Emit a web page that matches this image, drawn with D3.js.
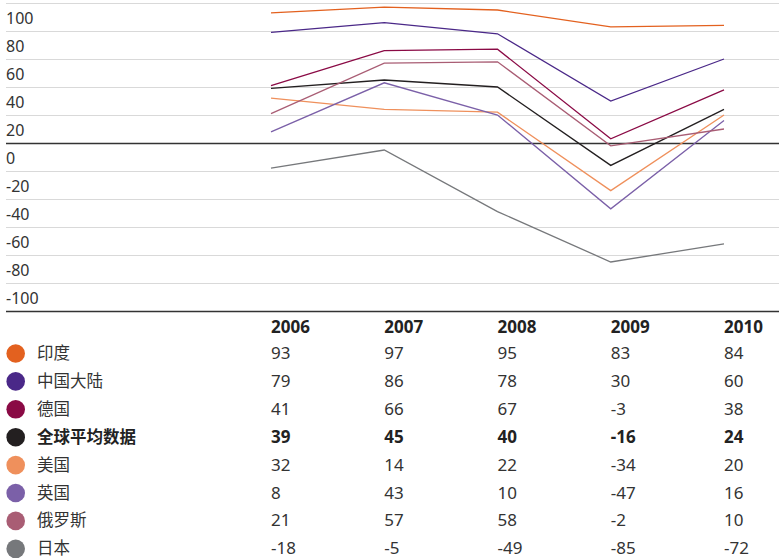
<!DOCTYPE html>
<html>
<head>
<meta charset="utf-8">
<script src="https://cdn.jsdelivr.net/npm/d3@7"></script>
<style>
  body { margin: 0; background: #fff; }
  text { font-family: "Noto Sans", "Noto Sans CJK SC", sans-serif; }
</style>
</head>
<body>
<svg id="chart" width="779" height="559"></svg>
<script>
// years across the bottom table / x axis
const years = ["2006", "2007", "2008", "2009", "2010"];

// country names, in table order
const names = ["印度", "中国大陆", "德国", "全球平均数据", "美国", "英国", "俄罗斯", "日本"];

// series colours
const colors = ["#e3611f", "#4a2888", "#8a0a45", "#231f20", "#ef905c", "#7b60a8", "#a95d74", "#76787b"];

// values as printed in the table
const tableValues = [
  [93, 97, 95, 83, 84],
  [79, 86, 78, 30, 60],
  [41, 66, 67, -3, 38],
  [39, 45, 40, -16, 24],
  [32, 14, 22, -34, 20],
  [8, 43, 10, -47, 16],
  [21, 57, 58, -2, 10],
  [-18, -5, -49, -85, -72]
];

// values as the lines are drawn in the picture (a few differ from the table)
const lineValues = [
  [93, 97, 95, 83, 84],
  [79, 86, 78, 30, 60],
  [41, 66, 67, 3, 38],
  [39, 45, 40, -16, 24],
  [32, 24, 22, -34, 20],
  [8, 43, 20, -47, 16],
  [21, 57, 58, -2, 10],
  [-18, -5, -49, -85, -72]
];

const yTicks = [100, 80, 60, 40, 20, 0, -20, -40, -60, -80, -100];

const svg = d3.select("#chart");
const width = 779;

const x = d3.scalePoint().domain(years).range([271, 724]);
const y = d3.scaleLinear().domain([-100, 100]).range([283, 3]);

// gridlines + labels
const grid = svg.append("g").attr("class", "grid");
grid.selectAll("line")
  .data(yTicks)
  .join("line")
  .attr("x1", 6)
  .attr("x2", width)
  .attr("y1", d => y(d) + 0.5)
  .attr("y2", d => y(d) + 0.5)
  .attr("stroke", d => d === 0 ? "#333" : "#d9d9d9")
  .attr("stroke-width", d => d === 0 ? 1.5 : 1);

grid.selectAll("text")
  .data(yTicks)
  .join("text")
  .attr("x", 6)
  .attr("y", d => y(d) + 21)
  .attr("font-size", 16)
  .attr("fill", "#333")
  .text(d => d);

// lines
const line = d3.line()
  .x((d, i) => x(years[i]))
  .y(d => y(d));

svg.append("g")
  .attr("class", "lines")
  .selectAll("path")
  .data(lineValues)
  .join("path")
  .attr("fill", "none")
  .attr("stroke", (d, i) => colors[i])
  .attr("stroke-width", 1.3)
  .attr("d", line);

// table
svg.append("line")
  .attr("x1", 6).attr("x2", width)
  .attr("y1", 311.5).attr("y2", 311.5)
  .attr("stroke", "#333")
  .attr("stroke-width", 1.5);

svg.append("g")
  .selectAll("text")
  .data(years)
  .join("text")
  .attr("x", d => x(d))
  .attr("y", 333)
  .attr("font-size", 17)
  .attr("font-weight", "bold")
  .attr("fill", "#222")
  .text(d => d);

const rowY = i => 359 + i * 27.9;

const rows = svg.append("g")
  .selectAll("g")
  .data(names)
  .join("g");

rows.append("circle")
  .attr("cx", 15.7)
  .attr("cy", (d, i) => rowY(i) - 5.5)
  .attr("r", 9.3)
  .attr("fill", (d, i) => colors[i]);

rows.append("text")
  .attr("x", 37)
  .attr("y", (d, i) => rowY(i))
  .attr("font-size", 16.5)
  .attr("font-family", "'Noto Sans CJK SC', sans-serif")
  .attr("font-weight", (d, i) => i === 3 ? "bold" : "normal")
  .attr("fill", (d, i) => i === 3 ? "#222" : "#333")
  .text(d => d);

rows.each(function(d, i) {
  d3.select(this).selectAll("text.val")
    .data(tableValues[i])
    .join("text")
    .attr("class", "val")
    .attr("x", (v, j) => x(years[j]))
    .attr("y", rowY(i))
    .attr("font-size", 17)
    .attr("font-weight", i === 3 ? "bold" : "normal")
    .attr("fill", i === 3 ? "#222" : "#333")
    .text(v => v);
});
</script>
</body>
</html>
